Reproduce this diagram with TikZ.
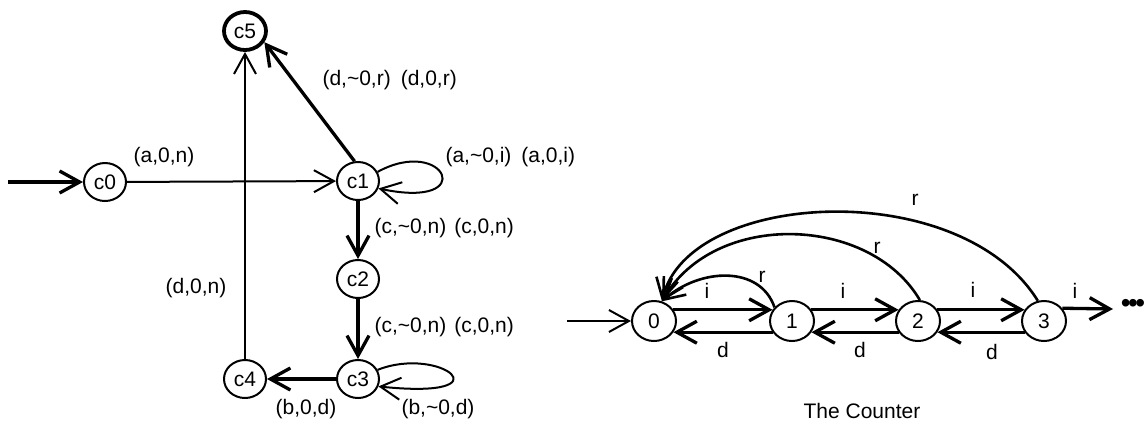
\documentclass[tikz,border=0pt]{standalone}
\usepackage{fontspec}
\setmainfont{Liberation Sans}
\usetikzlibrary{arrows.meta,shapes.geometric}
\begin{document}
\begin{tikzpicture}[x=1pt,y=-1pt,font=\fontsize{21}{25}\selectfont,
  st/.style={ellipse,draw,line width=2pt,minimum width=42pt,minimum height=38pt,inner sep=0pt},
  cst/.style={st,minimum width=44pt,minimum height=40pt},
  arr/.style={-{Straight Barb[length=20pt,width=22pt]}},
  thk/.style={line width=3.3pt},
  thn/.style={line width=2pt},
  arc/.style={line width=2.6pt}]
\useasboundingbox (0,0) rectangle (1148,429);
% left automaton
\node[st] (c0) at (105,182) {c0};
\node[st] (c1) at (358,181) {c1};
\node[st] (c2) at (358,279) {c2};
\node[st] (c3) at (358,379) {c3};
\node[st] (c4) at (245,379) {c4};
\node[st,line width=3.8pt] (c5) at (245,31) {c5};
\coordinate (in0) at (8,182);
\draw[thk,arr] (in0) -- (c0);
\draw[thn,arr] (c0) -- (c1);
\draw[thn,arr] (c4) -- (c5);
\draw[thk,arr] (c1.100) -- (c5.-30);
\draw[thk,arr] (c1) -- (c2);
\draw[thk,arr] (c2) -- (c3);
\draw[thk,arr] (c3) -- (c4);
\draw[thn,arr] (c1.25) .. controls (445,135) and (480,210) .. (c1.-20);
\draw[thn,arr] (c3.25) .. controls (440,345) and (510,400) .. (c3.-20);
\node at (164,157) {(a,0,n)};
\node[anchor=west] at (319,80) {(d,\textasciitilde0,r)\hspace{10pt}(d,0,r)};
\node[anchor=west] at (442,157) {(a,\textasciitilde0,i)\hspace{10pt}(a,0,i)};
\node[anchor=west] at (371,228) {(c,\textasciitilde0,n)\hspace{8pt}(c,0,n)};
\node[anchor=west] at (371,327) {(c,\textasciitilde0,n)\hspace{8pt}(c,0,n)};
\node at (196,288) {(d,0,n)};
\node at (306,409) {(b,0,d)};
\node at (438,409) {(b,\textasciitilde0,d)};
% counter
\node[cst] (n0) at (654,321) {0};
\node[cst] (n1) at (792,321) {1};
\node[cst] (n2) at (918,321) {2};
\node[cst] (n3) at (1044,321) {3};
\coordinate (in1) at (567,321);
\coordinate (out) at (1113,309);
\draw[thn,arr] (in1) -- (n0);
\draw[thk,arr] (n0.30) -- (n1.150);
\draw[thk,arr] (n1.30) -- (n2.150);
\draw[thk,arr] (n2.30) -- (n3.150);
\draw[thk,arr] (n3.35) -- (out);
\draw[thk,arr] (n1.-150) -- (n0.-30);
\draw[thk,arr] (n2.-150) -- (n1.-30);
\draw[thk,arr] (n3.-150) -- (n2.-30);
\draw[arc,arr] (n1.142) .. controls (760,265) and (700,268) .. (n0.68);
\draw[arc,arr] (n2.85) .. controls (870,215) and (715,210) .. (n0.68);
\draw[arc,arr] (n3.107) .. controls (960,175) and (688,190) .. (n0.68);
\node at (1133,306) {\fontsize{28}{28}\selectfont •\kern-2.5pt•\kern-2.5pt•};
\node at (707,291) {i};
\node at (843,291) {i};
\node at (973,290) {i};
\node at (1075,291) {i};
\node at (723,350) {d};
\node at (860,350) {d};
\node at (992,352) {d};
\node at (762,277) {r};
\node at (877,248) {r};
\node at (915,200) {r};
\node at (862,411) {The Counter};
\end{tikzpicture}
\end{document}
